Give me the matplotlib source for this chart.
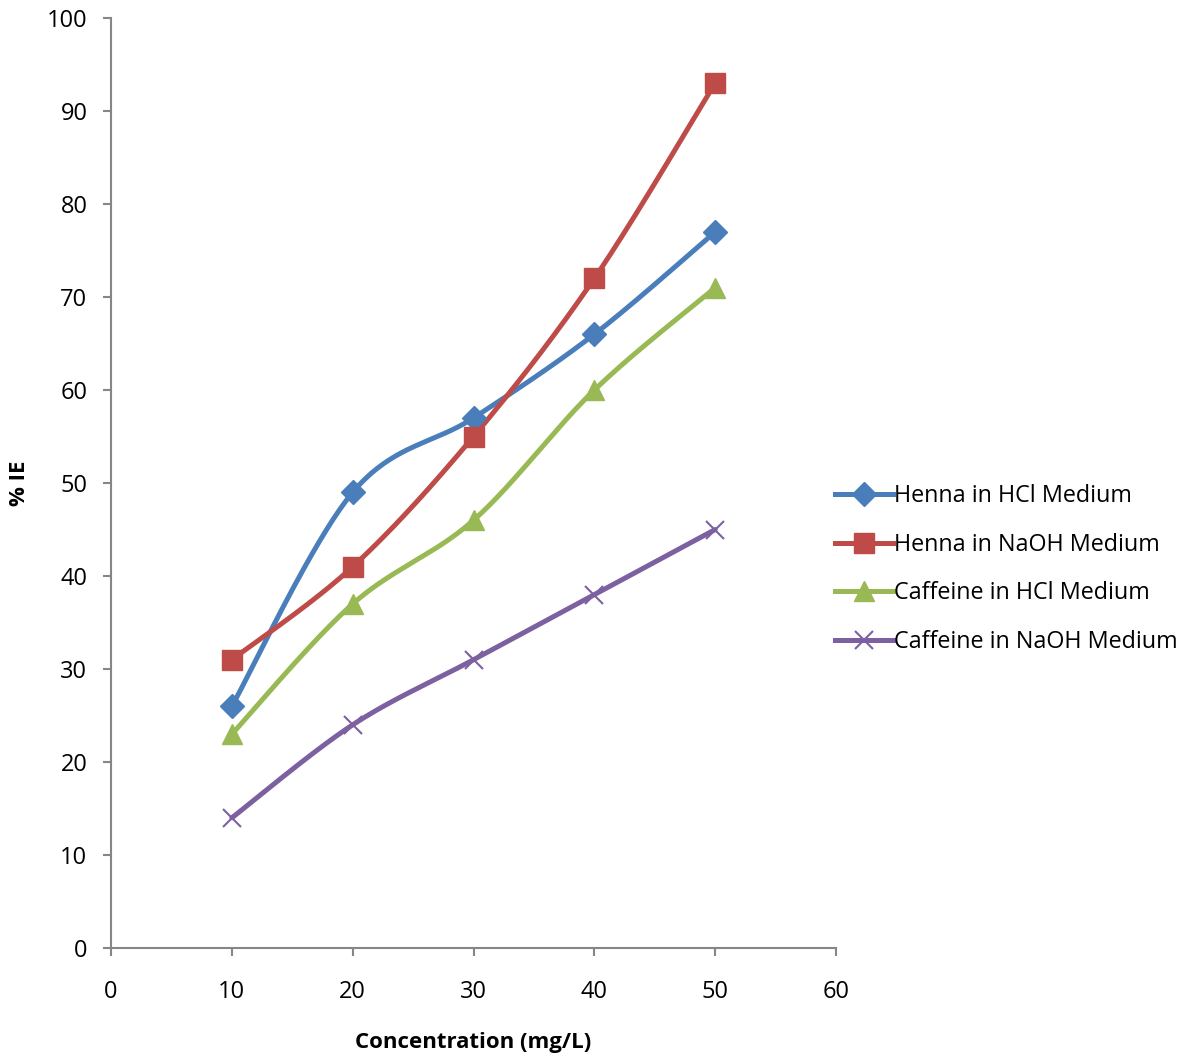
import numpy as np
import matplotlib
matplotlib.use('Agg')
import matplotlib.pyplot as plt
from matplotlib.lines import Line2D

conc = [10, 20, 30, 40, 50]
henna_hcl = [26, 49, 57, 66, 77]
henna_naoh = [31, 41, 55, 72, 93]
caffeine_hcl = [23, 37, 46, 60, 71]
caffeine_naoh = [14, 24, 31, 38, 45]

x_ticks = [0, 10, 20, 30, 40, 50, 60]
y_ticks = [0, 10, 20, 30, 40, 50, 60, 70, 80, 90, 100]

series = [
    ('Henna in HCl Medium', henna_hcl, '#4A7EBB', 'D', 12),
    ('Henna in NaOH Medium', henna_naoh, '#BE4B48', 's', 14),
    ('Caffeine in HCl Medium', caffeine_hcl, '#98B954', '^', 15),
    ('Caffeine in NaOH Medium', caffeine_naoh, '#7D60A0', 'x', 13),
]

AXIS_GREY = '#868686'


def smooth(xs, ys, steps=40):
    # spreadsheet-style smoothed line: cubic Bezier through each pair of points
    p = np.column_stack([xs, ys]).astype(float)
    p = np.vstack([p[0], p, p[-1]])
    out = []
    t = np.linspace(0, 1, steps)[:, None]
    for i in range(1, len(p) - 2):
        p0, p1, p2, p3 = p[i - 1], p[i], p[i + 1], p[i + 2]
        c1 = p1 + (p2 - p0) / 6
        c2 = p2 - (p3 - p1) / 6
        seg = ((1 - t) ** 3) * p1 + 3 * ((1 - t) ** 2) * t * c1 \
            + 3 * (1 - t) * t ** 2 * c2 + t ** 3 * p2
        out.append(seg if i == 1 else seg[1:])
    seg = np.vstack(out)
    return seg[:, 0], seg[:, 1]


plt.rcParams['font.family'] = ['Open Sans', 'DejaVu Sans']

fig = plt.figure(figsize=(11.85, 10.61), dpi=100)
ax = fig.add_axes([0.0937, 0.1065, 0.6118, 0.8765])

handles = []
for name, vals, color, marker, ms in series:
    sx, sy = smooth(conc, vals)
    ax.plot(sx, sy, color=color, lw=3.6, solid_capstyle='round', zorder=2)
    if marker == 'x':
        ax.plot(conc, vals, linestyle='none', marker='x', ms=ms, mew=1.5,
                color=color, zorder=3)
    else:
        ax.plot(conc, vals, linestyle='none', marker=marker, ms=ms,
                color=color, mec=color, zorder=3)
    handles.append(Line2D([], [], color=color, lw=3.6, marker=marker, ms=ms,
                          mew=1.5 if marker == 'x' else 1, mec=color,
                          label=name))

ax.set_xlim(0, 60)
ax.set_ylim(0, 100)
ax.set_xticks(x_ticks)
ax.set_yticks(y_ticks)

for side in ('top', 'right'):
    ax.spines[side].set_visible(False)
for side in ('left', 'bottom'):
    ax.spines[side].set_color(AXIS_GREY)
    ax.spines[side].set_linewidth(1.5)
ax.tick_params(axis='both', direction='out', length=6, width=1.5,
               color=AXIS_GREY, labelsize=17, labelcolor='black')
ax.tick_params(axis='x', pad=17)
ax.tick_params(axis='y', pad=11)

ax.set_xlabel('Concentration (mg/L)', fontsize=16, fontweight='bold', labelpad=20)
ax.set_ylabel('% IE', fontsize=16, fontweight='bold', labelpad=12)

fig.legend(handles=handles, loc='center left', bbox_to_anchor=(0.7046, 0.4635),
           frameon=False, fontsize=16.8, handlelength=2.5, handletextpad=0.05,
           labelspacing=1.05, borderpad=0, borderaxespad=0)

fig.savefig('out.png', dpi=100)
